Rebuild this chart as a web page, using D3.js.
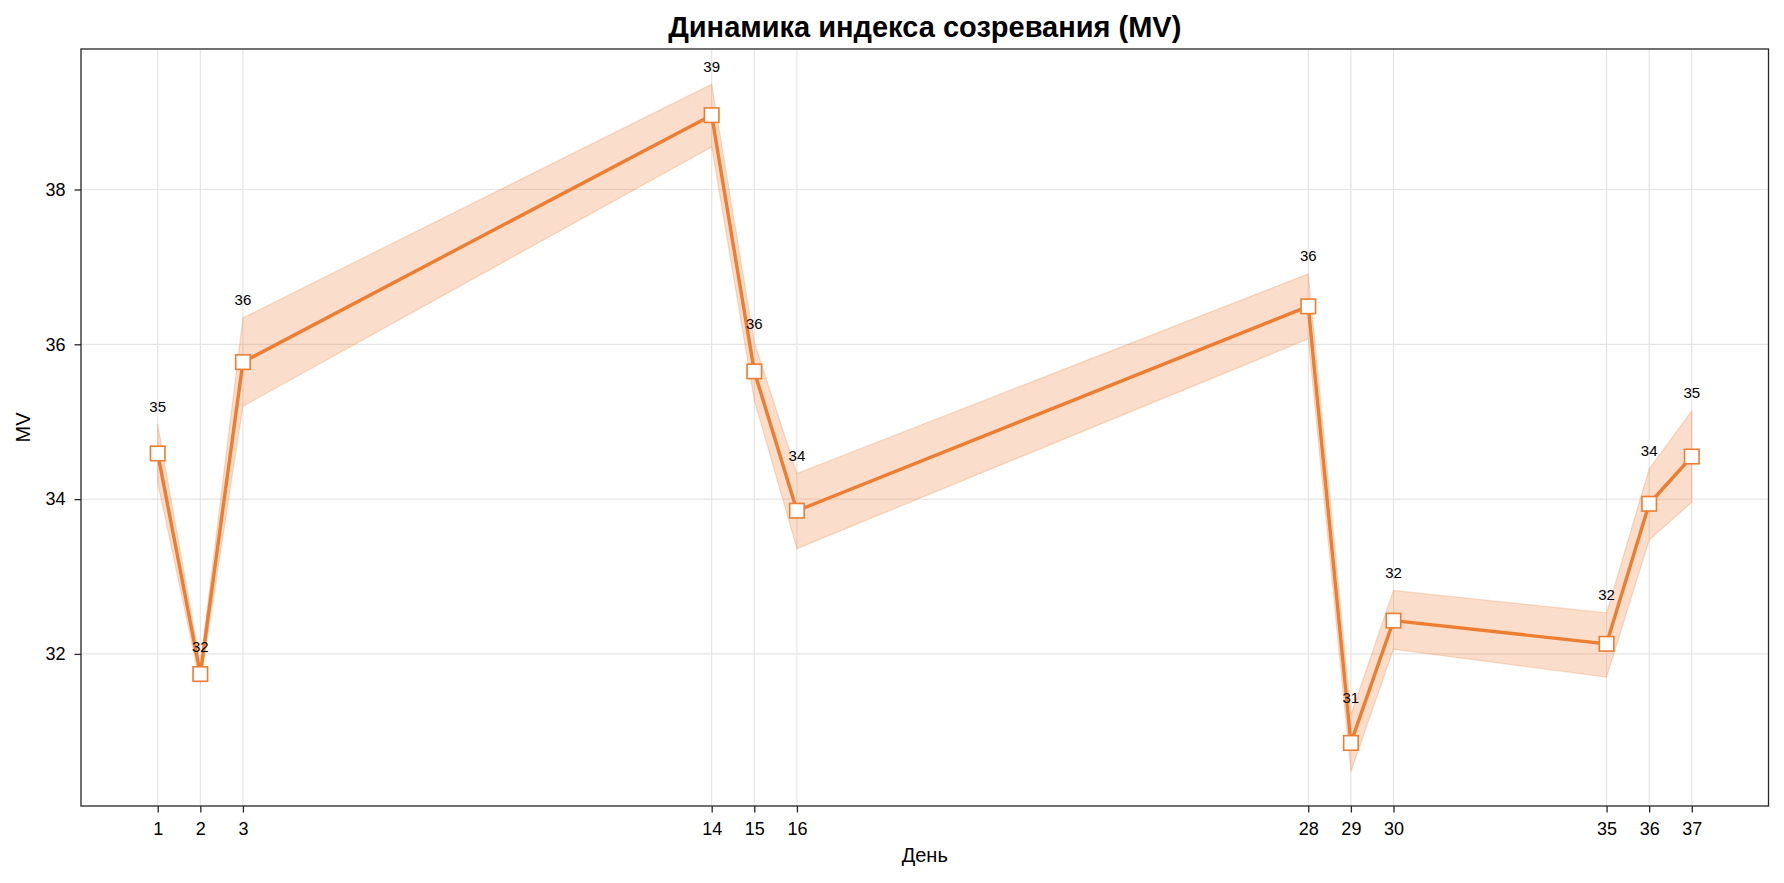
<!DOCTYPE html>
<html>
<head>
<meta charset="utf-8">
<script src="https://cdn.jsdelivr.net/npm/d3@7"></script>
<style>
  body { margin: 0; background: #fff; }
  #chart { width: 1784px; height: 883px; }
  text { font-family: "Liberation Sans", Arial, sans-serif; }
</style>
</head>
<body>
<div id="chart"></div>
<script>
// ||================================||
// || DATA                           ||
// ||================================||

var days = [1, 2, 3, 14, 15, 16, 28, 29, 30, 35, 36, 37];
var mvMean = [34.59, 31.74, 35.77, 38.96, 35.65, 33.85, 36.49, 30.85, 32.43, 32.13, 33.94, 34.55];
var mvLow  = [34.21, 31.62, 35.20, 38.55, 35.28, 33.36, 36.07, 30.48, 32.06, 31.70, 33.47, 33.96];
var mvHigh = [34.97, 31.86, 36.34, 39.36, 36.03, 34.33, 36.91, 31.21, 32.82, 32.53, 34.39, 35.14];
var yTicks = [32, 34, 36, 38];

var title = "Динамика индекса созревания (MV)",
    xLabel = "День",
    yLabel = "MV";

// ||================================||
// || LAYOUT                         ||
// ||================================||

var width = 1784,
    height = 883;

var margin = {top: 49, right: 15.5, bottom: 77, left: 81};

var orange = "#ed7d31";

var points = days.map(function(d, i) {
  return {day: d, mean: mvMean[i], low: mvLow[i], high: mvHigh[i]};
});

var x = d3.scaleLinear()
    .domain([-0.8, 38.8])
    .range([margin.left, width - margin.right]);

var y = d3.scaleLinear()
    .domain([30.035, 39.815])
    .range([height - margin.bottom, margin.top]);

var svg = d3.select("#chart")
  .append("svg")
    .attr("width", width)
    .attr("height", height);

// grid
var grid = svg.append("g").attr("class", "grid");

grid.selectAll("line.gx")
    .data(days)
    .enter().append("line")
      .attr("x1", function(d) { return x(d); })
      .attr("x2", function(d) { return x(d); })
      .attr("y1", margin.top)
      .attr("y2", height - margin.bottom)
      .attr("stroke", "#e5e5e5")
      .attr("stroke-width", 1.2);

grid.selectAll("line.gy")
    .data(yTicks)
    .enter().append("line")
      .attr("x1", margin.left)
      .attr("x2", width - margin.right)
      .attr("y1", function(d) { return y(d); })
      .attr("y2", function(d) { return y(d); })
      .attr("stroke", "#e5e5e5")
      .attr("stroke-width", 1.2);

// confidence band
var band = d3.area()
    .x(function(d) { return x(d.day); })
    .y0(function(d) { return y(d.low); })
    .y1(function(d) { return y(d.high); });

svg.append("path")
    .datum(points)
    .attr("d", band)
    .attr("fill", orange)
    .attr("fill-opacity", 0.25)
    .attr("stroke", orange)
    .attr("stroke-opacity", 0.25)
    .attr("stroke-width", 1.2);

// main line
var line = d3.line()
    .x(function(d) { return x(d.day); })
    .y(function(d) { return y(d.mean); });

svg.append("path")
    .datum(points)
    .attr("d", line)
    .attr("fill", "none")
    .attr("stroke", orange)
    .attr("stroke-width", 3.4)
    .attr("stroke-linejoin", "round");

// square markers
var ms = 14.5;
svg.append("g")
  .selectAll("rect")
  .data(points)
  .enter().append("rect")
    .attr("x", function(d) { return x(d.day) - ms / 2; })
    .attr("y", function(d) { return y(d.mean) - ms / 2; })
    .attr("width", ms)
    .attr("height", ms)
    .attr("fill", "#fff")
    .attr("stroke", orange)
    .attr("stroke-width", 1.6);

// value labels above the band
svg.append("g")
  .selectAll("text")
  .data(points)
  .enter().append("text")
    .attr("x", function(d) { return x(d.day); })
    .attr("y", function(d) { return y(d.high) - 12.5; })
    .attr("text-anchor", "middle")
    .attr("font-size", "15px")
    .attr("fill", "#000")
    .text(function(d) { return Math.round(d.mean); });

// axes
var xAxis = d3.axisBottom(x)
    .tickValues(days)
    .tickFormat(d3.format("d"))
    .tickSize(6.5)
    .tickPadding(10);

var yAxis = d3.axisLeft(y)
    .tickValues(yTicks)
    .tickFormat(d3.format("d"))
    .tickSize(6.5)
    .tickPadding(9);

var gx = svg.append("g")
    .attr("transform", "translate(0," + (height - margin.bottom) + ")")
    .call(xAxis);

var gy = svg.append("g")
    .attr("transform", "translate(" + margin.left + ",0)")
    .call(yAxis);

[gx, gy].forEach(function(g) {
  g.select(".domain").remove();
  g.selectAll(".tick line").attr("stroke", "#262626").attr("stroke-width", 1.3);
  g.selectAll(".tick text")
      .attr("fill", "#000")
      .attr("font-size", "18px")
      .attr("font-family", "Liberation Sans, Arial, sans-serif");
});

// frame
svg.append("rect")
    .attr("x", margin.left)
    .attr("y", margin.top)
    .attr("width", width - margin.left - margin.right)
    .attr("height", height - margin.top - margin.bottom)
    .attr("fill", "none")
    .attr("stroke", "#262626")
    .attr("stroke-width", 1.3);

// titles
svg.append("text")
    .attr("x", (margin.left + width - margin.right) / 2)
    .attr("y", 37)
    .attr("text-anchor", "middle")
    .attr("font-size", "29px")
    .attr("font-weight", "bold")
    .text(title);

svg.append("text")
    .attr("x", (margin.left + width - margin.right) / 2)
    .attr("y", 862)
    .attr("text-anchor", "middle")
    .attr("font-size", "20px")
    .text(xLabel);

svg.append("text")
    .attr("transform", "translate(30," + ((margin.top + height - margin.bottom) / 2) + ") rotate(-90)")
    .attr("text-anchor", "middle")
    .attr("font-size", "20px")
    .text(yLabel);
</script>
</body>
</html>
